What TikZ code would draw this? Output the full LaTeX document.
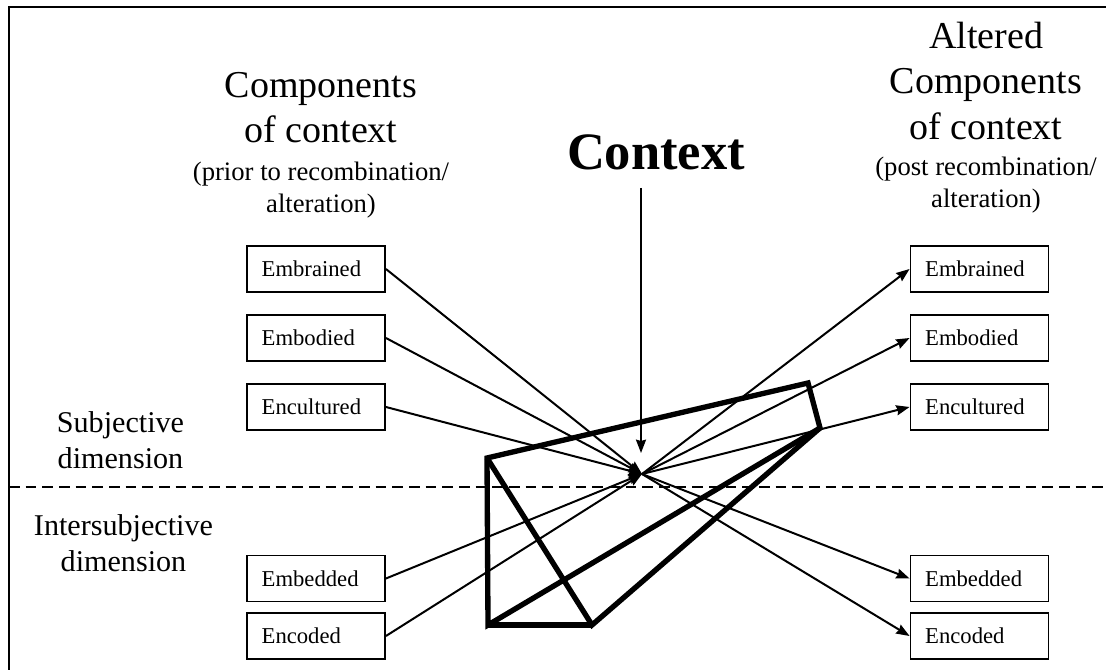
\documentclass[tikz,border=0pt]{standalone}
\usepackage{fontspec}
\setmainfont{Liberation Serif}
\usetikzlibrary{arrows.meta}

\begin{document}
\begin{tikzpicture}[x=0.75pt,y=-0.75pt,
  comp/.style={draw, line width=1.4pt, inner xsep=11pt, inner ysep=0pt,
    text width=81.5pt, minimum height=34.5pt, align=left,
    font=\fontsize{17}{19}\selectfont},
  link/.style={line width=1.5pt, -{Stealth[length=10pt,width=7.5pt,inset=1pt]}},
  wedge/.style={line width=4pt, line join=miter},
  title/.style={align=center, inner sep=0pt, anchor=north,
    font=\fontsize{28.5}{34}\selectfont},
  note/.style={align=center, inner sep=0pt, anchor=north,
    font=\fontsize{20}{24}\selectfont},
  dim/.style={align=center, inner sep=0pt, anchor=north,
    font=\fontsize{22.6}{27}\selectfont}]
  \useasboundingbox (0,0) rectangle (1106,670);
  \draw[line width=1.5pt] (9,670) -- (9,7) -- (1106,7);
  \draw[line width=1.5pt, dash pattern=on 8pt off 4.5pt] (9,487) -- (1106,487);

  \node[title] (pretitle) at (321,72) {Components\\of context};
  \node[note] (prenote) at (321,162) {(prior to recombination/\\alteration)};
  \node[title] (posttitle) at (986,22) {Altered\\Components\\of context};
  \node[note] (postnote) at (986,157) {(post recombination/\\alteration)};
  \node[inner sep=0pt, anchor=base, font=\fontsize{39.4}{47}\selectfont\bfseries]
    (ctx) at (656,170) {Context};

  \node[dim] (subj) at (120.5,411) {Subjective\\dimension};
  \node[dim] (inter) at (123.5,514) {Intersubjective\\dimension};

  % components before and after
  \node[comp] (lbrain) at (316,269) {Embrained};
  \node[comp] (lbody) at (316,338) {Embodied};
  \node[comp] (lcult) at (316,407) {Encultured};
  \node[comp] (lbed) at (316,578.5) {Embedded};
  \node[comp] (lcode) at (316,636) {Encoded};

  \node[comp] (rbrain) at (979.5,269) {Embrained};
  \node[comp] (rbody) at (979.5,338) {Embodied};
  \node[comp] (rcult) at (979.5,407) {Encultured};
  \node[comp] (rbed) at (979.5,578.5) {Embedded};
  \node[comp] (rcode) at (979.5,636) {Encoded};

  % the wedge
  \coordinate (wa) at (487,458);
  \coordinate (wb) at (808,383);
  \coordinate (wc) at (820,428);
  \coordinate (wd) at (488,625);
  \coordinate (we) at (592,625);
  \draw[wedge] (wa) -- (wb) -- (wc) -- (wd) -- cycle;
  \draw[wedge] (wa) -- (we) -- (wc);
  \draw[wedge] (wd) -- (we);

  \coordinate (hub) at (642,474);
  \coordinate (ctxfoot) at (641,188);
  \coordinate (ctxtip) at (641,453);
  \draw[link] (ctxfoot) -- (ctxtip);

  \foreach \n in {brain,body,cult,bed,code} {
    \draw[link] (l\n.east) -- (hub);
    \draw[link] (hub) -- (r\n.west);
  }
\end{tikzpicture}
\end{document}
